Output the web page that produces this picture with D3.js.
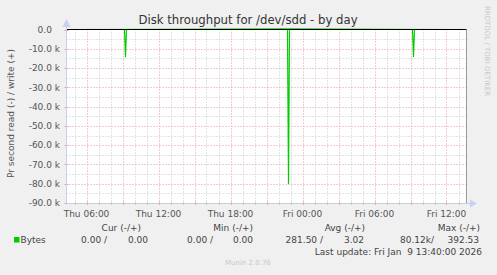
<!DOCTYPE html>
<html><head><meta charset="utf-8">
<script src="https://cdn.jsdelivr.net/npm/d3@7"></script>
<style>
html,body{margin:0;padding:0;background:#f0f0f0;}
svg{display:block;font-family:"DejaVu Sans",sans-serif;}
text{white-space:pre;}
</style></head><body>
<svg id="c" width="497" height="275"></svg>
<script>
// ---- data ----
const startTime = "2026-01-08T04:20:00Z";
const endTime = "2026-01-09T13:40:00Z";
const readTimes = ["2026-01-08T04:20:00Z","2026-01-08T09:10:00Z","2026-01-08T09:15:00Z","2026-01-08T09:20:00Z",
  "2026-01-08T22:45:00Z","2026-01-08T22:50:00Z","2026-01-08T22:55:00Z",
  "2026-01-09T09:10:00Z","2026-01-09T09:15:00Z","2026-01-09T09:20:00Z","2026-01-09T13:40:00Z"];
const readValues = [0,0,-14400,0, 0,-80120,0, 0,-14300,0, 0];
const writeTimes = ["2026-01-08T04:20:00Z","2026-01-08T09:15:00Z","2026-01-08T22:50:00Z","2026-01-09T09:15:00Z","2026-01-09T13:40:00Z"];
const writeValues = [0,60,392.53,50,0];
const yTicks = [0,-10000,-20000,-30000,-40000,-50000,-60000,-70000,-80000,-90000];
const yTickLabels = ["0.0","-10.0 k","-20.0 k","-30.0 k","-40.0 k","-50.0 k","-60.0 k","-70.0 k","-80.0 k","-90.0 k"];
const legendHeaders = ["Cur (-/+)","Min (-/+)","Avg (-/+)","Max (-/+)"];
const legendNeg = ["0.00 /","0.00 /","281.50 /","80.12k/"];
const legendPos = ["0.00","0.00","3.02","392.53"];
const title = "Disk throughput for /dev/sdd - by day";
const yLabel = "Pr second read (-) / write (+)";
const seriesName = "Bytes";
const lastUpdate = "Last update: Fri Jan  9 13:40:00 2026";
const credit = "RRDTOOL / TOBI OETIKER";
const version = "Munin 2.0.76";

// ---- layout ----
const L = 66.5, R = 466.5, T = 29.5, B = 203;
const svg = d3.select("#c");
svg.append("rect").attr("width",497).attr("height",275).attr("fill","#f0f0f0");
svg.append("rect").attr("x",L).attr("y",T).attr("width",R-L).attr("height",B-T).attr("fill","#ffffff");

const x = d3.scaleUtc().domain([new Date(startTime), new Date(endTime)]).range([L, R]);
const y = d3.scaleLinear().domain([0,-90000]).range([T, B]);

// grid
const g = svg.append("g");
const minorH = d3.range(-5000,-90000,-10000);
g.selectAll(".mh").data(minorH).join("line")
  .attr("x1",L).attr("x2",R).attr("y1",d=>Math.round(y(d))+0.5).attr("y2",d=>Math.round(y(d))+0.5)
  .attr("stroke","#c8c8c8").attr("stroke-dasharray","1,2");
const hours = d3.utcHour.range(new Date(startTime), new Date(endTime));
g.selectAll(".mv").data(hours.filter(d=>d.getUTCHours()%3!==0)).join("line")
  .attr("y1",T).attr("y2",B).attr("x1",d=>Math.round(x(d))+0.5).attr("x2",d=>Math.round(x(d))+0.5)
  .attr("stroke","#c8c8c8").attr("stroke-dasharray","1,2");
g.selectAll(".Mh").data(yTicks.slice(1,-1)).join("line")
  .attr("x1",L).attr("x2",R).attr("y1",d=>Math.round(y(d))+0.5).attr("y2",d=>Math.round(y(d))+0.5)
  .attr("stroke","#e49a9a").attr("stroke-dasharray","1,2");
g.selectAll(".Mv").data(hours.filter(d=>d.getUTCHours()%3===0)).join("line")
  .attr("y1",T).attr("y2",B).attr("x1",d=>Math.round(x(d))+0.5).attr("x2",d=>Math.round(x(d))+0.5)
  .attr("stroke","#e49a9a").attr("stroke-dasharray","1,2");

// ticks on axes
g.selectAll(".tyl").data(yTicks).join("line")
  .attr("x1",L-2).attr("x2",L+2).attr("y1",d=>Math.round(y(d))+0.5).attr("y2",d=>Math.round(y(d))+0.5)
  .attr("stroke","#e8a0a0");
g.selectAll(".txl").data(hours).join("line")
  .attr("y1",B-1).attr("y2",B+2).attr("x1",d=>Math.round(x(d))+0.5).attr("x2",d=>Math.round(x(d))+0.5)
  .attr("stroke",d=>d.getUTCHours()%3===0?"#e8a0a0":"#c8c8c8");

// series
const lineGen = d3.line().x(d=>x(d[0])).y(d=>y(d[1]));
const readPts = readTimes.map((t,i)=>[new Date(t), readValues[i]]);
const writePts = writeTimes.map((t,i)=>[new Date(t), writeValues[i]]);
svg.append("path").datum(writePts).attr("d",lineGen).attr("fill","none").attr("stroke","#00cc00").attr("stroke-width",1);
svg.append("path").datum(readPts).attr("d",lineGen).attr("fill","none").attr("stroke","#00cc00").attr("stroke-width",1.2);

// zero line
svg.append("line").attr("x1",L).attr("x2",R).attr("y1",y(0)).attr("y2",y(0)).attr("stroke","#000").attr("stroke-width",1);

// axes
svg.append("line").attr("x1",R).attr("x2",R).attr("y1",T).attr("y2",B).attr("stroke","#999").attr("stroke-width",1);
svg.append("line").attr("x1",L).attr("x2",L).attr("y1",25).attr("y2",B).attr("stroke","#c8cff0").attr("stroke-width",1);
svg.append("line").attr("x1",L).attr("x2",471).attr("y1",B+0.5).attr("y2",B+0.5).attr("stroke","#c8cdde").attr("stroke-width",1);
svg.append("path").attr("d",`M${L-4},${27} L${L},${19} L${L+4},${27} Z`).attr("fill","#c8d0f5");
svg.append("path").attr("d",`M${470},${B-3.5} L${477},${B+0.5} L${470},${B+4.5} Z`).attr("fill","#c8d0f5");

// y tick labels
const yl = svg.append("g").attr("font-size",9).attr("fill","#555").attr("text-anchor","end");
yTicks.forEach((v,i)=>{
  const t = yl.append("text").attr("x",60).attr("y",y(v)+3.3);
  const lab = yTickLabels[i];
  if(lab.endsWith(" k")) t.text(lab);
  else { t.append("tspan").text(lab); t.append("tspan").attr("fill-opacity",0).text(" k"); }
});

// x tick labels
const labelHours = hours.filter(d=>d.getUTCHours()%6===0);
const fmt = d3.utcFormat("%a %H:%M");
svg.append("g").attr("font-size",9).attr("fill","#555").attr("text-anchor","middle")
  .selectAll("text").data(labelHours).join("text")
  .attr("x",d=>x(d)).attr("y",216.5).text(d=>fmt(d));

// title
svg.append("text").attr("x",248).attr("y",24).attr("text-anchor","middle").attr("font-size",11.7).attr("fill","#333").text(title);
// y label
svg.append("text").attr("transform","translate(14,113.5) rotate(-90)").attr("text-anchor","middle").attr("font-size",9).attr("fill","#555").text(yLabel);
// credit
svg.append("text").attr("transform","translate(485,51) rotate(90)").attr("text-anchor","middle").attr("font-size",7).attr("fill","#c8c8c8").text(credit);

// legend
const lg = svg.append("g").attr("font-size",9).attr("fill","#444");
lg.append("rect").attr("x",14).attr("y",237).attr("width",5.5).attr("height",5.5).attr("fill","#00cc00");
lg.append("text").attr("x",20.5).attr("y",242.5).text(seriesName);
const headEnd = [141,253,365,480];
const negEnd = [107,213,323,434];
const posEnd = [148,253,364,479];
legendHeaders.forEach((h,i)=>{
  lg.append("text").attr("x",headEnd[i]).attr("y",230.5).attr("text-anchor","end").text(h);
  lg.append("text").attr("x",negEnd[i]).attr("y",242.5).attr("text-anchor","end").text(legendNeg[i]);
  lg.append("text").attr("x",posEnd[i]).attr("y",242.5).attr("text-anchor","end").text(legendPos[i]);
});
lg.append("text").attr("x",482).attr("y",254.5).attr("text-anchor","end").text(lastUpdate);
svg.append("text").attr("x",225).attr("y",264.5).attr("font-size",7).attr("fill","#c8c8c8").text(version);
</script>
</body></html>
